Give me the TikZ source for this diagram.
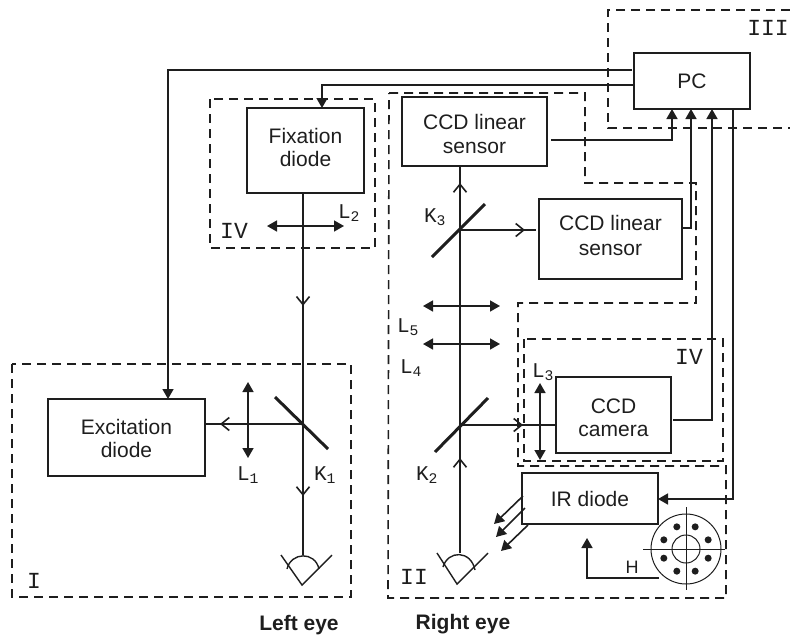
\documentclass[tikz,border=0pt]{standalone}
\usepackage{fontspec}
\setmainfont{Liberation Sans}
\newfontfamily\labelmono{Liberation Mono}
\usetikzlibrary{arrows.meta,calc,decorations.markings}
\definecolor{OPink}{RGB}{30,30,30}
\tikzset{
  unit/.style={draw=OPink,line width=1.6pt,align=center,inner sep=0pt,text=OPink,
               font=\fontsize{21}{23}\selectfont},
  zone/.style={draw=OPink,line width=1.6pt,dash pattern=on 9pt off 6pt},
  wire/.style={-{Triangle[length=10pt,width=11pt]},line width=1.6pt,draw=OPink},
  plainwire/.style={line width=1.6pt,draw=OPink},
  lens/.style={{Triangle[length=10pt,width=11pt]}-{Triangle[length=10pt,width=11pt]},line width=1.6pt,draw=OPink},
  mirror/.style={line width=3pt,draw=OPink},
  beam/.style={line width=1.6pt,draw=OPink,postaction={decorate},
               decoration={markings,mark=at position #1 with
               {\arrow{Straight Barb[length=8pt,width=13pt,line width=1.6pt]}}}},
  eyeline/.style={line width=1.4pt,draw=OPink},
  zonelabel/.style={font=\labelmono\fontsize{23}{23}\selectfont,text=OPink,inner sep=0pt},
  optlabel/.style={font=\labelmono\fontsize{21}{21}\selectfont,text=OPink,inner sep=0pt},
  eyelabel/.style={font=\bfseries\fontsize{21}{23}\selectfont,text=OPink,inner sep=0pt},
  dot/.style={circle,fill=OPink,inner sep=0pt,minimum size=7pt}
}
\begin{document}
\begin{tikzpicture}[x=1pt,y=-1pt]
  \useasboundingbox (0,0) rectangle (790,638);
  % dashed regions
  \draw[zone] (12,364) rectangle (351,597);
  \draw[zone] (210,99) rectangle (375,248);
  \draw[zone] (524,339) rectangle (723,461);
  \draw[zone] (790,10) -- (608,10) -- (608,128) -- (790,128);
  \draw[zone] (389,93) -- (585,93) -- (585,183) -- (696,183) -- (696,303) -- (518,303)
     -- (518,466) -- (726,466) -- (726,598) -- (388,598) -- cycle;
  % units
  \node[unit,minimum width=157pt,minimum height=77pt] (exc) at (126.5,437.5) {\rule{0pt}{18pt}Excitation\\diode};
  \node[unit,minimum width=117pt,minimum height=85pt] (fix) at (305.5,150.5) {Fixation\\diode\rule[-6pt]{0pt}{0pt}};
  \node[unit,minimum width=116pt,minimum height=56pt] (pc) at (692,81) {PC};
  \node[unit,minimum width=145pt,minimum height=69pt] (ccdA) at (474.5,131.5) {\rule{0pt}{20pt}CCD linear\\[1pt]sensor};
  \node[unit,minimum width=143pt,minimum height=80pt] (ccdB) at (610.5,239) {CCD linear\\[2pt]sensor\rule[-8pt]{0pt}{0pt}};
  \node[unit,minimum width=115pt,minimum height=76pt] (cam) at (613.5,415) {\rule{0pt}{20pt}CCD\\camera};
  \node[unit,minimum width=136pt,minimum height=51pt] (ir) at (590,498.5) {IR diode};
  % optical points
  \coordinate (kA) at (303,424);
  \coordinate (kB) at (460,425);
  \coordinate (kC) at (460,230);
  \coordinate (eyeL) at (303,555);
  \coordinate (eyeR) at (460,553);
  \coordinate (ccdBin) at (536,230);
  % left eye beams
  \draw[beam=112pt] (fix.south -| kA) -- (kA);
  \draw[beam=72pt] (kA) -- (eyeL);
  \draw[beam=83pt] (kA) -- (exc.east |- kA);
  % right eye beams
  \draw[beam=95pt] (eyeR) -- (kB);
  \draw[plainwire] (kB) -- (kC);
  \draw[beam=47pt] (kC) -- (ccdA.south -| kC);
  \draw[beam=65pt] (kC) -- (ccdBin);
  \draw[beam=63pt] (kB) -- (cam.west |- kB);
  % mirrors
  \draw[mirror] (275,397) -- (328,449);
  \draw[mirror] (435,452) -- (488,398);
  \draw[mirror] (432,257) -- (485,204);
  % lenses
  \draw[lens] (248,382) -- (248,458);
  \draw[lens] (267,226) -- (344,226);
  \draw[lens] (540,383) -- (540,460);
  \draw[lens] (423,344) -- (500,344);
  \draw[lens] (423,306) -- (500,306);
  % wires to and from the PC
  \coordinate (pcOutA) at (632,70);
  \coordinate (excIn) at (168,399);
  \coordinate (pcOutB) at (634,85);
  \coordinate (fixIn) at (322,108);
  \coordinate (ccdAout) at (551,140);
  \coordinate (pcInA) at (672,109);
  \coordinate (pcInB) at (691,109);
  \coordinate (pcInC) at (712,109);
  \coordinate (pcOutC) at (733,109);
  \coordinate (camOut) at (673,420);
  \coordinate (irIn) at (658,499);
  \draw[wire] (pcOutA) -| (excIn);
  \draw[wire] (pcOutB) -| (fixIn);
  \draw[wire] (ccdAout) -| (pcInA);
  \draw[wire] (ccdB.east |- 0,228) -| (pcInB);
  \draw[wire] (camOut) -| (pcInC);
  \draw[wire] (pcOutC) |- (irIn);
  % IR rays
  \draw[wire] (523,496) -- (494,524);
  \draw[wire] (525,508) -- (496,537);
  \draw[wire] (528,525) -- (501,551);
  % eyes
  \draw[eyeline] (281,555) -- (302,585) -- (332,555);
  \draw[eyeline] (287,569) .. controls (291,552) and (315,551) .. (319,569);
  \draw[eyeline] (437,553) -- (457,584) -- (488,553);
  \draw[eyeline] (443,567) .. controls (448,550) and (471,550) .. (475,570);
  % ring H
  \node[circle,draw=OPink,line width=1pt,minimum size=70pt,inner sep=0pt] (ringH) at (686,549) {};
  \node[circle,draw=OPink,line width=1pt,minimum size=28pt,inner sep=0pt] (hubH) at (686,549) {};
  \draw[line width=1pt,draw=OPink] (643,549) -- (725,549);
  \draw[line width=1pt,draw=OPink] (686,507) -- (686,590);
  \foreach \ang [count=\n] in {22.5,67.5,...,337.5}
    \node[dot] (dot\n) at ($(686,549)+(\ang:24)$) {};
  \coordinate (hOut) at (659,578);
  \coordinate (hTip) at (587,538);
  \draw[wire] (hOut) -| (hTip);
  % labels
  \node[zonelabel] (zI) at (34,581) {I};
  \node[zonelabel] (zII) at (414,577) {II};
  \node[zonelabel] (zIII) at (768,28) {III};
  \node[zonelabel] (zIVa) at (234,231) {IV};
  \node[zonelabel] (zIVb) at (689,357) {IV};
  \node[optlabel] (lA) at (248,475) {L\textsubscript{1}};
  \node[optlabel] (lB) at (349,213) {L\textsubscript{2}};
  \node[optlabel] (lC) at (543,372) {L\textsubscript{3}};
  \node[optlabel] (lD) at (411,368) {L\textsubscript{4}};
  \node[optlabel] (lE) at (408,327) {L\textsubscript{5}};
  \node[optlabel] (kAl) at (325,475) {K\textsubscript{1}};
  \node[optlabel] (kBl) at (427,475) {K\textsubscript{2}};
  \node[optlabel] (kCl) at (435,217) {K\textsubscript{3}};
  \node[text=OPink,inner sep=0pt,font=\fontsize{18}{18}\selectfont] (hl) at (632,567) {H};
  \node[eyelabel] (leftEye) at (299,625) {Left eye};
  \node[eyelabel] (rightEye) at (463,624) {Right eye};
\end{tikzpicture}
\end{document}
